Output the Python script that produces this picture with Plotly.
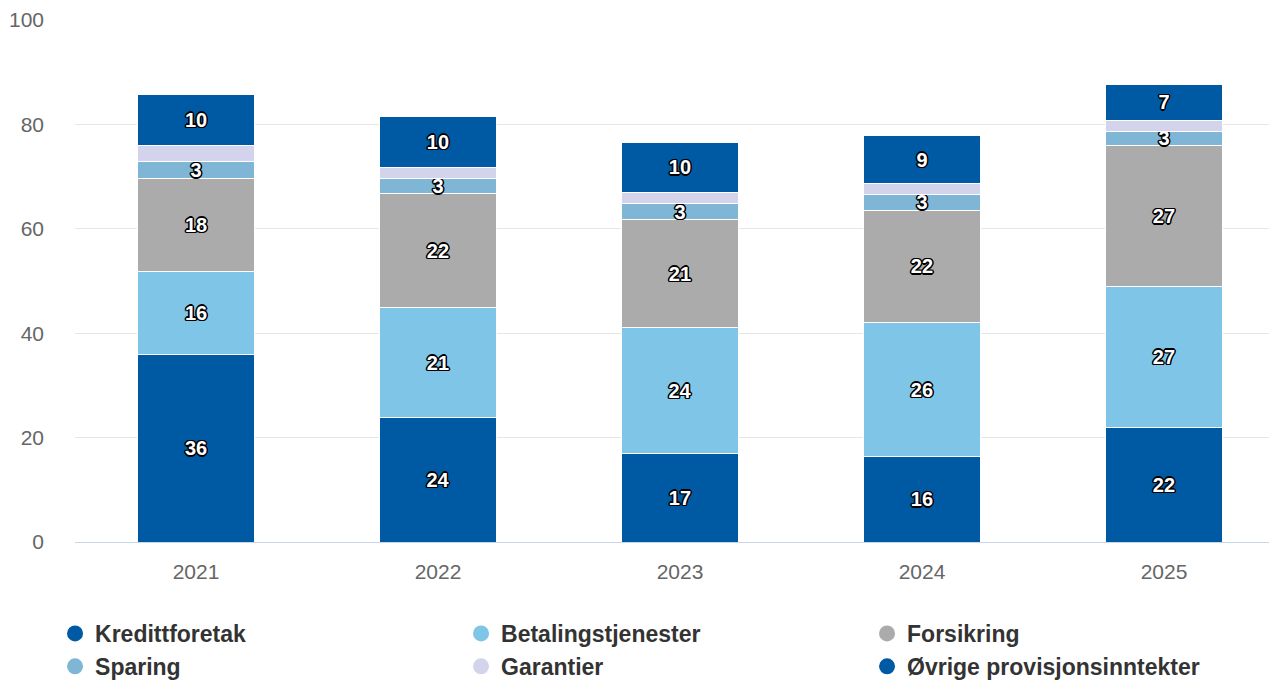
import plotly.graph_objects as go

years = ["2021", "2022", "2023", "2024", "2025"]
series_names = ["Kredittforetak", "Betalingstjenester", "Forsikring", "Sparing", "Garantier", "Øvrige provisjonsinntekter"]
kredittforetak = [36.0, 23.8, 17.0, 16.3, 22.0]
betalingstjenester = [15.8, 21.1, 24.0, 25.7, 26.9]
forsikring = [17.9, 21.8, 20.8, 21.6, 27.0]
sparing = [3.1, 3.0, 3.0, 2.9, 2.8]
garantier = [3.1, 2.1, 2.1, 2.1, 2.1]
ovrige = [9.9, 9.8, 9.7, 9.2, 6.9]
colors = ["#005aa3", "#7ec5e7", "#ababab", "#7fb5d5", "#d3d3eb", "#005aa3"]
show_labels = [True, True, True, True, False, True]
y_ticks = [0, 20, 40, 60, 80, 100]

values = [kredittforetak, betalingstjenester, forsikring, sparing, garantier, ovrige]

FONT = "Liberation Sans, Arial, sans-serif"
fig = go.Figure()
for name, vals, col, lab in zip(series_names, values, colors, show_labels):
    fig.add_trace(go.Bar(
        x=years, y=vals, name=name, showlegend=False,
        marker=dict(color=col, line=dict(color="white", width=1)),
        texttemplate="%{y:.0f}" if lab else "",
        textposition="inside", insidetextanchor="middle", textangle=0,
        textfont=dict(family=FONT, size=20, color="white", weight="bold",
                      shadow="-1px -1px 0 #000, 1px -1px 0 #000, -1px 1px 0 #000, 1px 1px 0 #000, 0 1.5px 0 #000, 0 -1.5px 0 #000, 1.5px 0 0 #000, -1.5px 0 0 #000"),
        hoverinfo="skip",
    ))
# legend entries with circle symbols
for name, col in zip(series_names, colors):
    fig.add_trace(go.Scatter(
        x=[None], y=[None], mode="markers", name=name,
        marker=dict(symbol="circle", size=16, color=col),
        showlegend=True, hoverinfo="skip",
    ))

fig.update_layout(
    width=1269, height=673,
    barmode="stack", bargap=0.517,
    plot_bgcolor="white", paper_bgcolor="white",
    margin=dict(l=67, r=0, t=12, b=139, autoexpand=False),
    uniformtext=dict(minsize=20, mode="show"),
    font=dict(family=FONT),
    legend=dict(
        orientation="h", x=-0.0166, xanchor="left", y=-0.134, yanchor="top",
        entrywidth=361, entrywidthmode="pixels", traceorder="normal",
        font=dict(family=FONT, size=23, color="#333333", weight="bold"),
        itemclick=False, tracegroupgap=0,
    ),
    xaxis=dict(
        type="category", range=[-0.5, 4.467], automargin=False,
        showline=True, linecolor="#ccd6eb", linewidth=1,
        ticks="", tickfont=dict(size=21, color="#666666"),
        ticklabelstandoff=11, showgrid=False, zeroline=False,
    ),
    yaxis=dict(
        range=[0, 100], tickvals=y_ticks, automargin=False,
        showgrid=True, gridcolor="#e6e6e6", gridwidth=1,
        zeroline=False, showline=False,
        ticks="", tickfont=dict(size=21, color="#666666"),
        ticklabelstandoff=30,
    ),
)

fig.write_html("out.html")
